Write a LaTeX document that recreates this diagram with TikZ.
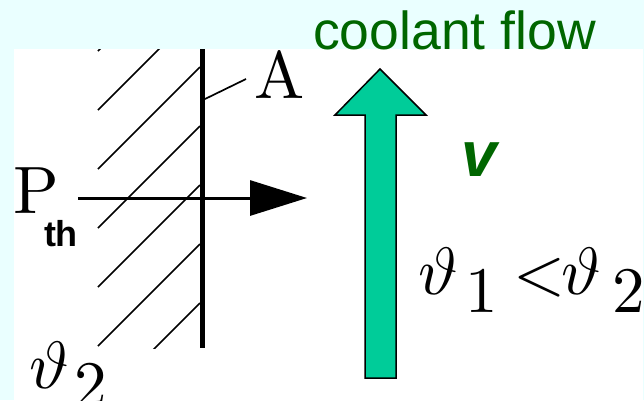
\RequirePackage{fix-cm}
\documentclass[tikz,border=0pt]{standalone}
\usepackage{fontspec}
\newfontfamily\arialfont{Liberation Sans}
\usetikzlibrary{arrows.meta,positioning}
\definecolor{bgcyan}{RGB}{234,255,255}
\definecolor{flowgreen}{RGB}{0,102,0}
\definecolor{coolantfill}{RGB}{0,204,153}
% big Computer Modern faces for the labels
\font\cmrbig=cmr10 at 67pt
\font\cmmibig=cmmi10 at 67pt
\font\cmsybig=cmsy10 at 67pt
\font\cmexbig=cmex10 at 67pt
\font\cmrsub=cmr10 at 65pt
\newcommand\bigfams{\textfont0=\cmrbig\textfont1=\cmmibig\textfont2=\cmsybig\textfont3=\cmexbig}

\begin{document}
\begin{tikzpicture}[x=1pt,y=-1pt,
    every node/.style={inner sep=0pt,outer sep=0pt},
    hatchline/.style={line width=1.7pt},
    bigmath/.style={font=\cmrbig}]
            % Background
            \fill[bgcyan] (0,0) rectangle (644,400);
            \fill[white] (14,49) rectangle (643,400);
            \useasboundingbox (0,0) rectangle (644,400);

            % Hatching behind the wall
            \begin{scope}
                \clip (97,49.5) rectangle (201,348);
                \draw[hatchline] (98,51) -- ++(102,-102);
                \draw[hatchline] (98,110) -- ++(102,-102);
                \draw[hatchline] (98,169) -- ++(102,-102);
                \draw[hatchline] (98,228) -- ++(102,-102);
                \draw[hatchline] (98,287) -- ++(102,-102);
                \draw[hatchline] (98,346) -- ++(102,-102);
                \draw[hatchline] (98,405) -- ++(102,-102);
            \end{scope}

            % Wall
            \coordinate (walltop) at (202.5,49);
            \coordinate (wallbot) at (202.5,348);
            \draw[line width=5.6pt] (walltop) -- (wallbot);

            % Labels
            \node[bigmath,anchor=base west] (areaA) at (254,98) {A};
            \coordinate (aleader) at (246,79);
            \coordinate (awall) at (205,99);
            \draw[line width=1.7pt] (awall) -- (aleader);

            \node[bigmath,anchor=base west] (pth) at (13,213) {P};
            \node[anchor=base west,font=\arialfont\bfseries\fontsize{36}{38}\selectfont] (pthsub) at (44,246) {th};
            \node[bigmath,anchor=base west] (theta2) at (29,388) {$\bigfams\vartheta_{\kern6pt\hbox{\cmrsub 2}}$};

            % Heat flow arrow
            \coordinate (pstart) at (78,198);
            \coordinate (pend) at (307,198);
            \draw[line width=3pt,-{Triangle[length=57pt,width=35pt]}] (pstart) -- (pend);

            % Coolant arrow
            \draw[line width=1.5pt,fill=coolantfill,line join=miter]
                (365,378) -- (365,115) -- (335,115) -- (380,69) -- (426,115) -- (396,115) -- (396,378) -- cycle;
            \node[anchor=base,text=flowgreen,font=\arialfont\fontsize{53.5}{55}\selectfont] (flow) at (454.5,49) {coolant flow};
            \node[anchor=base,text=flowgreen,font=\arialfont\bfseries\itshape\fontsize{64}{66}\selectfont] (speed) at (479,176) {v};
            \node[bigmath,anchor=base west] (thetas) at (418,294)
                {$\bigfams\vartheta_{\kern8pt\hbox{\cmrsub 1}}\kern15pt\mathord{<}\kern-4.5pt\vartheta_{\kern12pt\hbox{\cmrsub 2}}$};
        \end{tikzpicture}
\end{document}
